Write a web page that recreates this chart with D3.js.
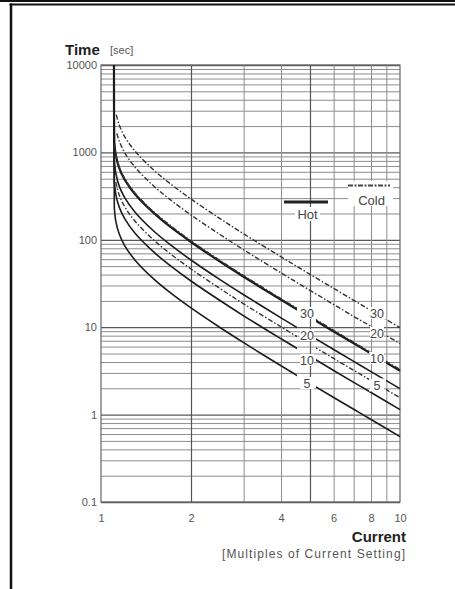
<!DOCTYPE html>
<html>
<head>
<meta charset="utf-8">
<script src="https://cdn.jsdelivr.net/npm/d3@7"></script>
<style>
    body { margin: 0; background: #fff; }
    svg { display: block; font-family: "Liberation Sans", Arial, sans-serif; }
</style>
</head>
<body>
<div id="chart"></div>
<script>
/***********************************************************
 * Data (current in multiples, time in sec)
 * *********************************************************
 */
let hotCurrent = [1.105, 1.108, 1.11, 1.12, 1.15, 1.2, 1.3, 1.5, 1.7, 2, 2.5, 3, 4, 5, 6, 7, 8, 10];
let hot30 = [10000, 1352, 1221, 940, 665, 488, 332, 203, 142, 94.4, 56.4, 37.8, 20.6, 13.0, 8.94, 6.54, 4.99, 3.18];
let hot20 = [10000, 841, 759, 585, 414, 304, 207, 126, 88.5, 58.7, 35.0, 23.5, 12.8, 8.07, 5.56, 4.07, 3.10, 1.98];
let hot10 = [10000, 484, 437, 336, 238, 175, 119, 72.6, 51.0, 33.8, 20.2, 13.5, 7.37, 4.65, 3.20, 2.34, 1.79, 1.14];
let hot5 = [10000, 238, 215, 165, 117, 85.9, 58.5, 35.7, 25.0, 16.6, 9.91, 6.65, 3.62, 2.28, 1.57, 1.15, 0.88, 0.56];

let cold30Current = [1.125, 1.15, 1.2, 1.3, 1.5, 1.7, 2, 2.5, 3, 4, 5, 6, 7, 8, 10];
let cold30 = [2700, 2066, 1516, 1032, 630, 442, 293, 175, 117, 63.9, 40.3, 27.8, 20.3, 15.5, 9.89];
let cold20Current = [1.13, 1.15, 1.2, 1.3, 1.5, 1.7, 2, 2.5, 3, 4, 5, 6, 7, 8, 10];
let cold20 = [1650, 1355, 994, 677, 413, 290, 192, 115, 76.9, 41.9, 26.4, 18.2, 13.3, 10.2, 6.48];
let cold10Current = [1.11, 1.12, 1.15, 1.2, 1.3, 1.5, 1.7, 2, 2.5, 3, 4, 5, 6, 7, 8, 10];
let cold10 = [1258, 968, 685, 503, 342, 209, 147, 97.2, 58.0, 38.9, 21.2, 13.4, 9.21, 6.74, 5.14, 3.28];
let cold5Current = [1.12, 1.15, 1.2, 1.3, 1.5, 1.7, 2, 2.5, 3, 4, 5, 6, 7, 8, 10];
let cold5 = [461, 327, 240, 163, 99.5, 69.8, 46.3, 27.7, 18.5, 10.1, 6.37, 4.39, 3.21, 2.45, 1.56];

let curveLabels = ["30", "20", "10", "5"];

let xTicks = [1, 2, 4, 6, 8, 10];
let yTicks = [0.1, 1, 10, 100, 1000, 10000];
let yTickLabels = ["0.1", "1", "10", "100", "1000", "10000"];

/***********************************************************
 * Set up sizes and scales
 * *********************************************************
 */
let svgWidth = 455;
let svgHeight = 589;
let plot = { left: 101, right: 400, top: 65, bottom: 502 };

let svg = d3.select("#chart")
    .append("svg")
    .attr("width", svgWidth)
    .attr("height", svgHeight);

let x = d3.scaleLog().domain([1, 10]).range([plot.left, plot.right]);
let y = d3.scaleLog().domain([0.1, 10000]).range([plot.bottom, plot.top]);

// page frame (double rule on top, rule on the left)
svg.append("line").attr("x1", 0).attr("x2", svgWidth).attr("y1", 1).attr("y2", 1)
    .attr("stroke", "#111").attr("stroke-width", 2);
svg.append("line").attr("x1", 9.5).attr("x2", svgWidth).attr("y1", 4.5).attr("y2", 4.5)
    .attr("stroke", "#111").attr("stroke-width", 2);
svg.append("line").attr("x1", 11).attr("x2", 11).attr("y1", 3.5).attr("y2", svgHeight)
    .attr("stroke", "#111").attr("stroke-width", 2.5);

/***********************************************************
 * Grid
 * *********************************************************
 */
let minorY = [];
[0.1, 1, 10, 100, 1000].forEach(d => { for (let m = 2; m <= 9; m++) minorY.push(d * m); });
let minorX = [3, 4, 6, 7, 8, 9];
let majorX = [2, 5];

function grid(axis, cls, color, w, tr) {
    let g = svg.append("g").attr("class", cls).attr("transform", tr).call(axis);
    g.select(".domain").remove();
    g.selectAll("line").attr("stroke", color).attr("stroke-width", w);
    g.selectAll("text").remove();
    return g;
}

grid(d3.axisLeft(y).tickValues(minorY).tickSize(-(plot.right - plot.left)).tickFormat(""),
    "grid-y-minor", "#8d8d8d", 1, `translate(${plot.left},0)`);
grid(d3.axisLeft(y).tickValues(yTicks).tickSize(-(plot.right - plot.left)).tickFormat(""),
    "grid-y-major", "#5a5a5a", 1.3, `translate(${plot.left},0)`);
grid(d3.axisBottom(x).tickValues(minorX).tickSize(-(plot.bottom - plot.top)).tickFormat(""),
    "grid-x-minor", "#8d8d8d", 1, `translate(0,${plot.bottom})`);
grid(d3.axisBottom(x).tickValues(majorX).tickSize(-(plot.bottom - plot.top)).tickFormat(""),
    "grid-x-major", "#555", 1.2, `translate(0,${plot.bottom})`);

svg.append("rect")
    .attr("x", plot.left).attr("y", plot.top)
    .attr("width", plot.right - plot.left).attr("height", plot.bottom - plot.top)
    .attr("fill", "none").attr("stroke", "#666").attr("stroke-width", 1.2);

/***********************************************************
 * Curves (gaps where the curve labels sit)
 * *********************************************************
 */
let leftLabelY = [313, 335, 360, 383];
let rightLabelY = [313, 333, 358, 385];
let leftLabelX = 307;
let rightLabelX = 377;

let defs = svg.append("defs");
let mask = defs.append("mask").attr("id", "gapMask").attr("maskUnits", "userSpaceOnUse")
    .attr("x", 0).attr("y", 0).attr("width", svgWidth).attr("height", svgHeight);
mask.append("rect").attr("x", 0).attr("y", 0).attr("width", svgWidth).attr("height", svgHeight).attr("fill", "#fff");
mask.append("rect").attr("x", 297).attr("y", 298).attr("width", 19).attr("height", 98).attr("fill", "#000");
rightLabelY.forEach(cy => {
    mask.append("rect").attr("x", 369).attr("y", cy - 6.5).attr("width", 17).attr("height", 13).attr("fill", "#000");
});

let lineGen = d3.line()
    .x(d => x(d[0]))
    .y(d => y(d[1]))
    .curve(d3.curveCatmullRom.alpha(0.5));

let series = [
    { cur: hotCurrent, t: hot30, dash: null, w: 2.2 },
    { cur: hotCurrent, t: hot20, dash: null, w: 1.6 },
    { cur: hotCurrent, t: hot10, dash: null, w: 1.6 },
    { cur: hotCurrent, t: hot5, dash: null, w: 1.6 },
    { cur: cold30Current, t: cold30, dash: "5,2,1.5,2", w: 1.4 },
    { cur: cold20Current, t: cold20, dash: "5,2,1.5,2", w: 1.4 },
    { cur: cold10Current, t: cold10, dash: "5,2,1.5,2", w: 1.4 },
    { cur: cold5Current, t: cold5, dash: "5,2,1.5,2", w: 1.4 }
];

let curveGroup = svg.append("g").attr("class", "curves").attr("mask", "url(#gapMask)");
curveGroup.selectAll("path")
    .data(series)
    .enter()
    .append("path")
    .attr("d", s => lineGen(s.cur.map((c, i) => [c, s.t[i]])))
    .attr("fill", "none")
    .attr("stroke", s => s.dash ? "#333" : "#1c1c1c")
    .attr("stroke-width", s => s.w)
    .attr("stroke-dasharray", s => s.dash);

// curve labels with white backing
function curveLabel(txt, cx, cy) {
    svg.append("rect").attr("x", cx - 7).attr("y", cy - 6).attr("width", 14).attr("height", 12).attr("fill", "#fff");
    svg.append("text")
        .attr("x", cx).attr("y", cy)
        .attr("dy", "0.36em")
        .attr("text-anchor", "middle")
        .attr("font-size", "12.5px")
        .attr("fill", "#444")
        .text(txt);
}
curveLabels.forEach((lab, i) => {
    curveLabel(lab, leftLabelX, leftLabelY[i]);
    curveLabel(lab, rightLabelX, rightLabelY[i]);
});

/***********************************************************
 * Legend
 * *********************************************************
 */
svg.append("rect").attr("x", 295).attr("y", 207).attr("width", 25).attr("height", 14).attr("fill", "#fff");
svg.append("rect").attr("x", 348).attr("y", 181).attr("width", 45).attr("height", 25).attr("fill", "#fff");
svg.append("line").attr("x1", 284).attr("x2", 328).attr("y1", 202).attr("y2", 202)
    .attr("stroke", "#222").attr("stroke-width", 3);
svg.append("text").attr("x", 307.5).attr("y", 219).attr("text-anchor", "middle")
    .attr("font-size", "13px").attr("fill", "#444").text("Hot");
svg.append("line").attr("x1", 348).attr("x2", 390).attr("y1", 185.5).attr("y2", 185.5)
    .attr("stroke", "#444").attr("stroke-width", 1.8).attr("stroke-dasharray", "5,1.5,2,1.5");
svg.append("text").attr("x", 371.5).attr("y", 205).attr("text-anchor", "middle")
    .attr("font-size", "13px").attr("fill", "#444").text("Cold");

/***********************************************************
 * Axes labels
 * *********************************************************
 */
let yAxis = svg.append("g")
    .attr("transform", `translate(${plot.left - 1},0)`)
    .call(d3.axisLeft(y).tickValues(yTicks).tickSize(0).tickPadding(3)
        .tickFormat((d, i) => yTickLabels[i]));
yAxis.select(".domain").remove();
yAxis.selectAll("text").attr("font-size", "11px").attr("fill", "#555")
    .attr("font-family", "'Liberation Sans', Arial, sans-serif");

let xAxis = svg.append("g")
    .attr("transform", `translate(0,${plot.bottom})`)
    .call(d3.axisBottom(x).tickValues(xTicks).tickSize(0).tickPadding(12)
        .tickFormat(d3.format("d")));
xAxis.select(".domain").remove();
xAxis.selectAll("text").attr("font-size", "11px").attr("fill", "#555")
    .attr("font-family", "'Liberation Sans', Arial, sans-serif");

svg.append("text").attr("x", 65).attr("y", 55)
    .attr("font-size", "15px").attr("font-weight", "bold").attr("fill", "#222")
    .text("Time");
svg.append("text").attr("x", 110).attr("y", 54)
    .attr("font-size", "11px").attr("fill", "#555")
    .text("[sec]");

svg.append("text").attr("x", 406).attr("y", 542).attr("text-anchor", "end")
    .attr("font-size", "15px").attr("font-weight", "bold").attr("fill", "#222")
    .text("Current");
svg.append("text").attr("x", 222).attr("y", 558)
    .attr("font-size", "12px").attr("fill", "#555")
    .attr("textLength", 183).attr("lengthAdjust", "spacing")
    .text("[Multiples of Current Setting]");
</script>
</body>
</html>
